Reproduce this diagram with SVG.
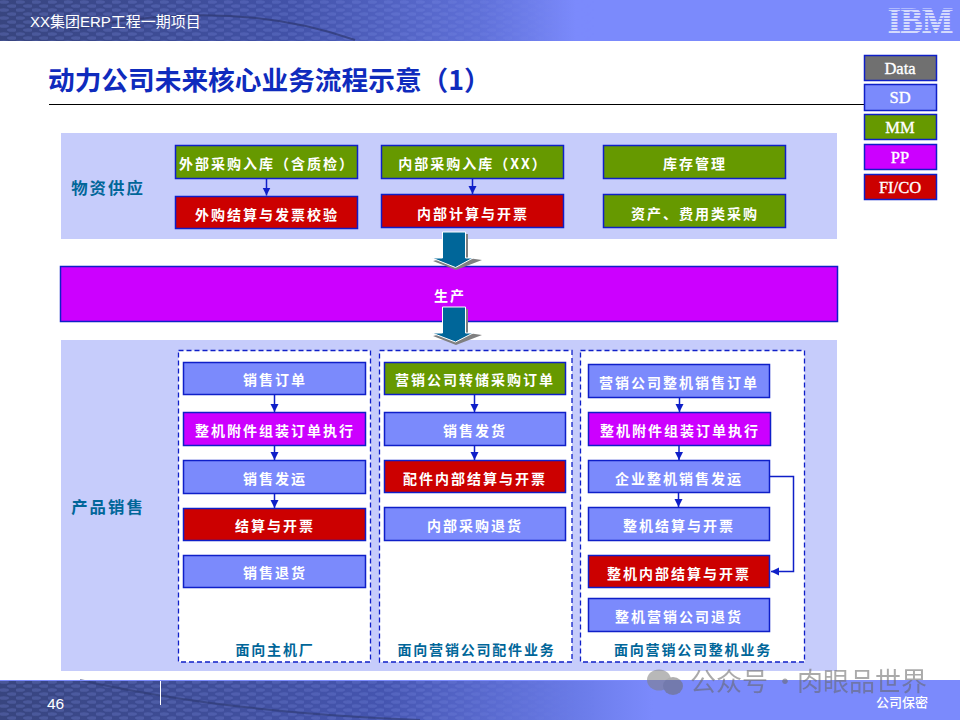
<svg xmlns="http://www.w3.org/2000/svg" width="960" height="720" viewBox="0 0 960 720">
<style>
.cjk{font-family:"Noto Sans CJK SC","Liberation Sans",sans-serif}
.b{stroke:#0f1fc8;stroke-width:1.5}
.g{fill:#669900}.r{fill:#cc0000}.p{fill:#cc00ff}.s{fill:#7b8afc}.d{fill:#707070}
.panel{fill:#c6ccfb}
.lb{font-family:"Noto Sans CJK SC","Liberation Serif",serif;font-weight:700;font-size:14px;letter-spacing:2px;fill:#fff;text-anchor:middle}
.sec{font-family:"Noto Sans CJK SC","Liberation Serif",serif;font-weight:700;font-size:16.400px;letter-spacing:2px;fill:#006699;text-anchor:middle}
.cap{font-family:"Noto Sans CJK SC","Liberation Serif",serif;font-weight:700;font-size:14px;letter-spacing:1.800px;fill:#006699;text-anchor:middle}
.leg{font-family:"Liberation Serif",serif;font-size:16.500px;fill:#fff;stroke:#fff;stroke-width:.35;text-anchor:middle}
.dash{fill:#fff;stroke:#0f1fc8;stroke-width:1.3;stroke-dasharray:5 3}
.c{fill:none;stroke:#0f1fc8;stroke-width:1.5}
</style>
<defs>
<marker id="ah" markerUnits="userSpaceOnUse" markerWidth="9" markerHeight="9" refX="8" refY="4" orient="auto"><path d="M0 0L8 4L0 8Z" fill="#0f1fc8"/></marker>
<linearGradient id="hg" x1="0" x2="1" y1="0" y2="0"><stop offset="0" stop-color="#38457f"/><stop offset=".3" stop-color="#4252a8"/><stop offset=".5" stop-color="#5f70d8"/><stop offset=".6" stop-color="#7b8afc"/><stop offset="1" stop-color="#7b8afc"/></linearGradient>
<linearGradient id="fg" x1="0" x2="1" y1="0" y2="0"><stop offset="0" stop-color="#38457f"/><stop offset=".4" stop-color="#4555b0"/><stop offset=".6" stop-color="#6a7be8"/><stop offset=".68" stop-color="#7b8afc"/><stop offset="1" stop-color="#7b8afc"/></linearGradient>
<linearGradient id="fade" x1="0" x2="1" y1="0" y2="0"><stop offset="0" stop-color="#fff" stop-opacity=".4"/><stop offset=".45" stop-color="#fff" stop-opacity=".35"/><stop offset=".62" stop-color="#fff" stop-opacity="0"/></linearGradient>
<pattern id="dots" width="16" height="8" patternUnits="userSpaceOnUse"><ellipse cx="4" cy="2" rx="5" ry="1.800" fill="#8c9cf0" opacity=".55"/><ellipse cx="12" cy="6" rx="5" ry="1.800" fill="#8c9cf0" opacity=".55"/></pattern>
<mask id="mk"><rect x="0" y="0" width="960" height="720" fill="url(#fade)"/></mask>
<pattern id="stripe" width="4" height="3" patternUnits="userSpaceOnUse"><rect width="4" height="1" fill="#7b8afc"/></pattern>
</defs>
<rect width="960" height="720" fill="#fff"/>

<g id="header">
<rect x="0" y="0" width="960" height="41" fill="url(#hg)"/>
<rect x="0" y="0" width="960" height="41" fill="url(#dots)" mask="url(#mk)"/>
<path d="M70 30Q230 -4 355 40" fill="none" stroke="#2d3870" stroke-width="2" opacity=".7"/>
<text x="30" y="27" font-family="'Liberation Sans','Noto Sans CJK SC',sans-serif" font-size="15" fill="#fff">XX集团ERP工程一期项目</text>
<g id="ibm"><text x="920.500" y="33" font-family="'Liberation Serif',serif" font-weight="700" font-size="35" fill="#d5dbfd" stroke="#d5dbfd" stroke-width=".8" text-anchor="middle" textLength="65" lengthAdjust="spacingAndGlyphs">IBM</text><rect x="886" y="6" width="70" height="28" fill="url(#stripe)"/></g>
</g>

<g id="footer">
<rect x="0" y="680" width="960" height="40" fill="url(#fg)"/>
<rect x="0" y="681" width="960" height="39" fill="url(#dots)" mask="url(#mk)"/>
<path d="M80 680Q220 712 420 720" fill="none" stroke="#2d3870" stroke-width="2" opacity=".6"/>
<rect x="0" y="680" width="960" height="1" fill="#7b8afc"/>
<rect x="160" y="681" width="1" height="24" fill="#fff"/>
<text x="47" y="709" font-family="'Liberation Sans',sans-serif" font-size="15.500" fill="#fff">46</text>
<text x="876" y="707" class="cjk" font-size="13" font-weight="500" fill="#fff">公司保密</text>
</g>

<g id="title">
<text x="48" y="90" class="cjk" font-size="26.700" font-weight="700" fill="#0f2bbd">动力公司未来核心业务流程示意（1）</text>
<rect x="49" y="104" width="815" height="1" fill="#000"/>
</g>

<g id="legend">
<g id="leg-data"><rect x="864.500" y="55.500" width="72" height="25" class="b d"/><text x="900" y="74" class="leg">Data</text></g>
<g id="leg-sd"><rect x="864.500" y="84.500" width="72" height="26" class="b s"/><text x="900" y="103" class="leg">SD</text></g>
<g id="leg-mm"><rect x="864.500" y="114.500" width="72" height="25" class="b g"/><text x="900" y="133" class="leg">MM</text></g>
<g id="leg-pp"><rect x="864.500" y="144.500" width="72" height="25" class="b p"/><text x="900" y="163" class="leg">PP</text></g>
<g id="leg-fico"><rect x="864.500" y="174.500" width="72" height="25" class="b r"/><text x="900" y="193" class="leg">FI/CO</text></g>
</g>

<g id="supply-panel">
<rect x="61" y="133" width="776" height="106" class="panel"/>
<text x="108" y="194" class="sec">物资供应</text>
</g>
<g id="sales-panel">
<rect x="61" y="340" width="776" height="331" class="panel"/>
<text x="108" y="513" class="sec">产品销售</text>
</g>

<g id="col1-frame"><rect x="178.500" y="350.500" width="192" height="311.500" class="dash"/><text x="275" y="655" class="cap">面向主机厂</text></g>
<g id="col2-frame"><rect x="379.500" y="350.500" width="192.500" height="311.500" class="dash"/><text x="476.500" y="655" class="cap">面向营销公司配件业务</text></g>
<g id="col3-frame"><rect x="580.500" y="350.500" width="224" height="311.500" class="dash"/><text x="693" y="655" class="cap">面向营销公司整机业务</text></g>

<g id="n-wbcg"><rect x="175.500" y="145.500" width="182" height="33" class="b g"/><text x="267" y="169" class="lb">外部采购入库（含质检）</text></g>
<g id="n-wgjs"><rect x="175.500" y="196.500" width="182" height="32" class="b r"/><text x="267" y="220" class="lb">外购结算与发票校验</text></g>
<g id="n-nbcg"><rect x="381.500" y="145.500" width="182" height="33" class="b g"/><text x="473" y="169" class="lb">内部采购入库（XX）</text></g>
<g id="n-nbjs"><rect x="381.500" y="194.500" width="182" height="33" class="b r"/><text x="473" y="219" class="lb">内部计算与开票</text></g>
<g id="n-kc"><rect x="603.500" y="145.500" width="182" height="33" class="b g"/><text x="695" y="169" class="lb">库存管理</text></g>
<g id="n-zc"><rect x="603.500" y="194.500" width="182" height="33" class="b g"/><text x="695" y="219" class="lb">资产、费用类采购</text></g>
<g id="n-sc"><rect x="60.500" y="266.500" width="777" height="55" class="b p"/><text x="450" y="301" class="lb">生产</text></g>

<g id="a1"><rect x="183.500" y="362.500" width="182" height="32" class="b s"/><text x="275" y="385" class="lb">销售订单</text></g>
<g id="a2"><rect x="183.500" y="412.500" width="182" height="33" class="b p"/><text x="275" y="436" class="lb">整机附件组装订单执行</text></g>
<g id="a3"><rect x="183.500" y="460.500" width="182" height="33" class="b s"/><text x="275" y="484" class="lb">销售发运</text></g>
<g id="a4"><rect x="183.500" y="508.500" width="182" height="32" class="b r"/><text x="275" y="531" class="lb">结算与开票</text></g>
<g id="a5"><rect x="183.500" y="555.500" width="182" height="32" class="b s"/><text x="275" y="578" class="lb">销售退货</text></g>

<g id="b1"><rect x="384.500" y="362.500" width="181" height="32" class="b g"/><text x="475" y="385" class="lb">营销公司转储采购订单</text></g>
<g id="b2"><rect x="384.500" y="412.500" width="181" height="33" class="b s"/><text x="475" y="436" class="lb">销售发货</text></g>
<g id="b3"><rect x="384.500" y="460.500" width="181" height="32" class="b r"/><text x="475" y="484" class="lb">配件内部结算与开票</text></g>
<g id="b4"><rect x="384.500" y="507.500" width="181" height="33" class="b s"/><text x="475" y="531" class="lb">内部采购退货</text></g>

<g id="c1"><rect x="588.500" y="364.500" width="181" height="33" class="b s"/><text x="679" y="388" class="lb">营销公司整机销售订单</text></g>
<g id="c2"><rect x="588.500" y="412.500" width="182" height="33" class="b p"/><text x="680" y="436" class="lb">整机附件组装订单执行</text></g>
<g id="c3"><rect x="588.500" y="460.500" width="181" height="32" class="b s"/><text x="679" y="484" class="lb">企业整机销售发运</text></g>
<g id="c4"><rect x="588.500" y="507.500" width="181" height="33" class="b s"/><text x="679" y="531" class="lb">整机结算与开票</text></g>
<g id="c5"><rect x="588.500" y="555.500" width="181" height="32" class="b r"/><text x="679" y="579" class="lb">整机内部结算与开票</text></g>
<g id="c6"><rect x="588.500" y="598.500" width="181" height="33" class="b s"/><text x="679" y="622" class="lb">整机营销公司退货</text></g>

<g id="connectors">
<path class="c" marker-end="url(#ah)" d="M266.500 178.500V195.500"/>
<path class="c" marker-end="url(#ah)" d="M472.500 178.500V194"/>
<path class="c" marker-end="url(#ah)" d="M274.500 394.500V412"/>
<path class="c" marker-end="url(#ah)" d="M274.500 445.500V460"/>
<path class="c" marker-end="url(#ah)" d="M274.500 493.500V508"/>
<path class="c" marker-end="url(#ah)" d="M474.500 394.500V412"/>
<path class="c" marker-end="url(#ah)" d="M474.500 445.500V460"/>
<path class="c" marker-end="url(#ah)" d="M679.500 397.500V412"/>
<path class="c" marker-end="url(#ah)" d="M679 445.500V460"/>
<path class="c" marker-end="url(#ah)" d="M678.500 492.500V507"/>
<path class="c" marker-end="url(#ah)" d="M769.500 476.500H793.500V571.500H771"/>
<g id="flow1">
<path d="M468 234V258L482 260L456 270L433 261L445 258V234Z" fill="#808080"/>
<path d="M442.500 232H465.500V258H473L455.500 267.500L432 258H442.500Z" fill="#006699" stroke="#fff" stroke-width="1"/>
</g>
<g id="flow2">
<path d="M468 309V333L482 335L456 345L433 336L445 333V309Z" fill="#808080"/>
<path d="M442.500 307H465.500V333H473L455.500 342L432 333H442.500Z" fill="#006699" stroke="#fff" stroke-width="1"/>
</g>
</g>

<g id="watermark" opacity=".55">
<ellipse cx="659" cy="680" rx="12" ry="10.500" fill="#7f7f7f"/>
<ellipse cx="673" cy="686" rx="10" ry="9" fill="#6e6e6e"/>
<text y="691" class="cjk" font-size="26" fill="#666"><tspan x="690">公众号</tspan><tspan x="772">·</tspan><tspan x="797">肉眼品世界</tspan></text>
</g>
</svg>
